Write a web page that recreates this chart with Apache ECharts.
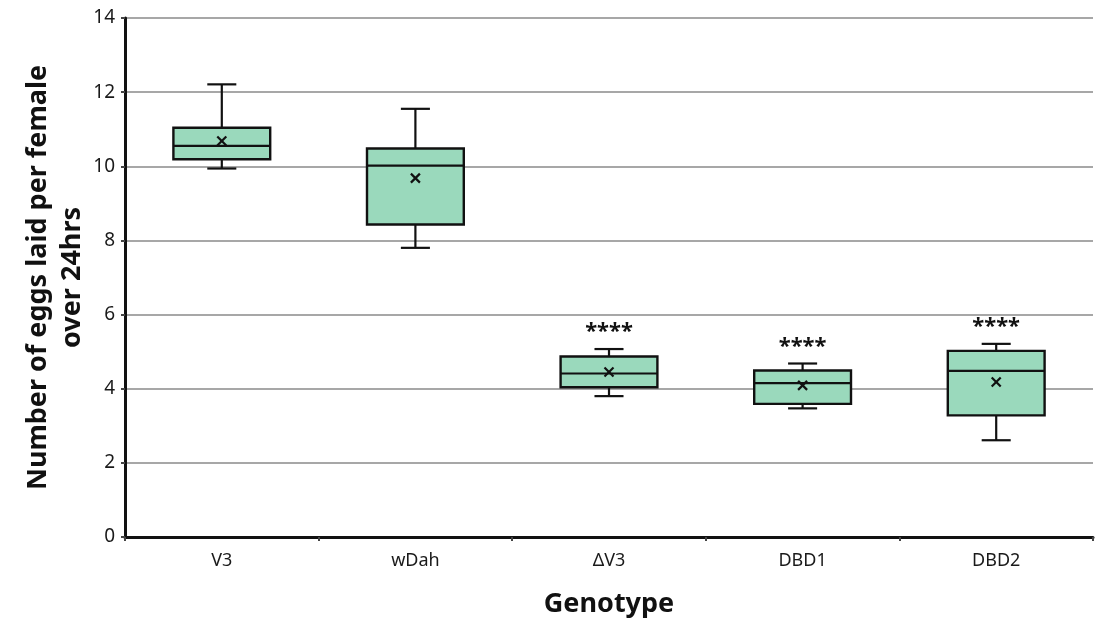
<!DOCTYPE html>
<html>
<head>
<meta charset="utf-8">
<style>
  html, body { margin: 0; padding: 0; background: #ffffff; }
  #chart { width: 1095px; height: 621px; }
</style>
<script src="https://cdn.jsdelivr.net/npm/echarts@6/dist/echarts.min.js"></script>
</head>
<body>
<div id="chart"></div>
<script>
// Eggs laid per female over 24 hrs, per genotype (box-and-whisker summary)
const categories  = ['V3', 'wDah', 'ΔV3', 'DBD1', 'DBD2'];
const whiskerLow  = [9.94, 7.80, 3.80, 3.47, 2.61];
const q1          = [10.19, 8.43, 4.04, 3.59, 3.28];
const median      = [10.55, 10.02, 4.41, 4.15, 4.48];
const q3          = [11.04, 10.48, 4.87, 4.49, 5.02];
const whiskerHigh = [12.21, 11.55, 5.07, 4.68, 5.21];
const mean        = [10.68, 9.68, 4.45, 4.09, 4.18];
const significance = ['', '', '****', '****', '****'];
const yTicks = [0, 2, 4, 6, 8, 10, 12, 14];

const FONT = 'Noto Sans';
const FILL = '#9ad9bc';

const rows = categories.map((c, i) => [i, whiskerLow[i], q1[i], median[i], q3[i], whiskerHigh[i], mean[i]]);

function renderBox(params, api) {
  const i = api.value(0);
  const band = api.size([1, 0])[0];
  const boxHalf = band * 0.25;
  const capHalf = band * 0.075;
  const pLow = api.coord([i, api.value(1)]);
  const pQ1 = api.coord([i, api.value(2)]);
  const pMed = api.coord([i, api.value(3)]);
  const pQ3 = api.coord([i, api.value(4)]);
  const pHigh = api.coord([i, api.value(5)]);
  const pMean = api.coord([i, api.value(6)]);
  const cx = pMed[0];
  const line = { stroke: '#111', lineWidth: 2.2 };
  const m = 4.5;
  const children = [
    { type: 'line', shape: { x1: cx, y1: pQ3[1], x2: cx, y2: pHigh[1] }, style: line },
    { type: 'line', shape: { x1: cx, y1: pQ1[1], x2: cx, y2: pLow[1] }, style: line },
    { type: 'line', shape: { x1: cx - capHalf, y1: pHigh[1], x2: cx + capHalf, y2: pHigh[1] }, style: line },
    { type: 'line', shape: { x1: cx - capHalf, y1: pLow[1], x2: cx + capHalf, y2: pLow[1] }, style: line },
    { type: 'rect', shape: { x: cx - boxHalf, y: pQ3[1], width: boxHalf * 2, height: pQ1[1] - pQ3[1] },
      style: { fill: FILL, stroke: '#111', lineWidth: 2.4 } },
    { type: 'line', shape: { x1: cx - boxHalf, y1: pMed[1], x2: cx + boxHalf, y2: pMed[1] }, style: line },
    { type: 'line', shape: { x1: cx - m, y1: pMean[1] - m, x2: cx + m, y2: pMean[1] + m }, style: { stroke: '#111', lineWidth: 2.2 } },
    { type: 'line', shape: { x1: cx - m, y1: pMean[1] + m, x2: cx + m, y2: pMean[1] - m }, style: { stroke: '#111', lineWidth: 2.2 } }
  ];
  const sig = significance[i];
  if (sig) {
    children.push({
      type: 'text',
      style: { text: sig, x: cx, y: pHigh[1] - 6, align: 'center', verticalAlign: 'bottom',
               font: 'bold 22px "' + FONT + '"', fill: '#111' }
    });
  }
  return { type: 'group', children };
}

const chart = echarts.init(document.getElementById('chart'), null, { renderer: 'canvas' });
chart.setOption({
  animation: false,
  backgroundColor: '#ffffff',
  grid: { left: 125, right: 2, top: 18, bottom: 84, containLabel: false, outerBoundsMode: 'none' },
  xAxis: {
    type: 'category',
    data: categories,
    name: 'Genotype',
    nameLocation: 'middle',
    nameGap: 54,
    nameMoveOverlap: false,
    nameTextStyle: { fontFamily: FONT, fontWeight: 'bold', fontSize: 27, color: '#111' },
    axisLine: { lineStyle: { color: '#111', width: 3 } },
    axisTick: { show: true, length: 4, lineStyle: { color: '#444', width: 2 } },
    axisLabel: { fontFamily: FONT, fontSize: 18, color: '#1a1a1a', margin: 15 },
    splitLine: { show: false }
  },
  yAxis: {
    type: 'value',
    min: yTicks[0],
    max: yTicks[yTicks.length - 1],
    interval: 2,
    name: 'Number of eggs laid per female\nover 24hrs',
    nameLocation: 'middle',
    nameGap: 36,
    nameMoveOverlap: false,
    nameRotate: 90,
    nameTextStyle: { fontFamily: FONT, fontWeight: 'bold', fontSize: 27, color: '#111', lineHeight: 34 },
    axisLine: { show: true, lineStyle: { color: '#111', width: 3 } },
    axisTick: { show: true, length: 4, lineStyle: { color: '#444', width: 2 } },
    axisLabel: { fontFamily: FONT, fontSize: 19, color: '#1a1a1a', margin: 10 },
    splitLine: { show: true, lineStyle: { color: '#8a8a8a', width: 1.5 } }
  },
  series: [{
    type: 'custom',
    renderItem: renderBox,
    encode: { x: 0, y: [1, 2, 3, 4, 5, 6] },
    data: rows,
    z: 10
  }]
});
</script>
</body>
</html>
